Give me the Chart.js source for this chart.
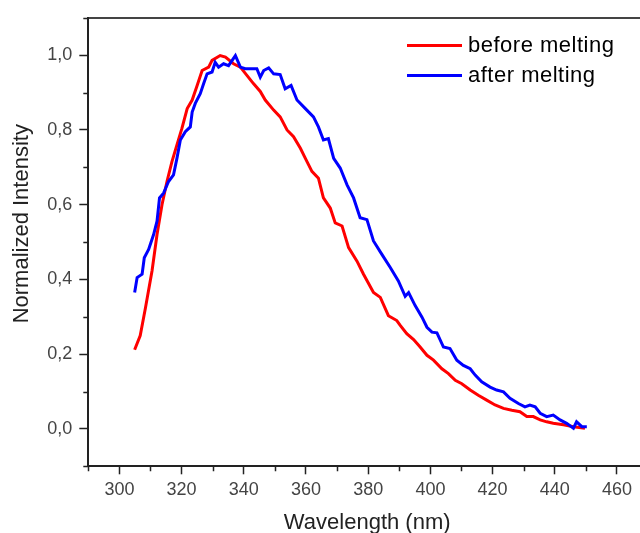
<!DOCTYPE html>
<html>
<head>
<meta charset="utf-8">
<script src="https://cdn.jsdelivr.net/npm/chart.js@4"></script>
<style>
  body { margin: 0; background: #fff; }
  #wrap { position: relative; width: 640px; height: 533px; overflow: hidden; }
  #legend { position: absolute; left: 407px; top: 30px; font-family: "Liberation Sans", Arial, sans-serif; font-size: 22px; letter-spacing: 0.5px; color: #000; }
  .row { display: flex; align-items: center; height: 30px; }
  .swatch { width: 55px; height: 3px; margin-right: 6px; }
</style>
</head>
<body>
<div id="wrap">
  <canvas id="myChart" width="640" height="533"></canvas>
  <div id="legend">
    <div class="row"><span class="swatch" style="background:#ff0000"></span><span>before melting</span></div>
    <div class="row"><span class="swatch" style="background:#0000ff"></span><span>after melting</span></div>
  </div>
</div>
<script>
// before melting (red)
const redWl = [304.9, 306.7, 308.4, 310.5, 312.1, 313.7, 315.3, 316.9, 318.5, 320.1, 321.8, 323.4, 325.0, 326.6, 328.7, 329.8,
  332.4, 334.1, 336.7, 338.9, 341.0, 343.1, 345.3, 346.9, 349.6, 351.7, 353.9, 356.0, 358.2, 359.8, 361.9, 364.0, 365.6,
  367.8, 369.4, 371.6, 373.7, 376.4, 378.5, 381.7, 383.9, 386.5, 389.2, 390.3, 392.4, 394.6, 396.7, 398.9, 401.0, 403.7,
  405.8, 408.0, 410.1, 412.8, 415.4, 418.1, 420.8, 423.5, 426.2, 428.8, 431.0, 433.1, 435.3, 437.4, 439.5, 442.8, 446.0, 449.7];
const redVal = [0.212, 0.25, 0.325, 0.423, 0.52, 0.60, 0.662, 0.715, 0.76, 0.804, 0.857, 0.88, 0.919, 0.959, 0.968, 0.986,
  0.999, 0.995, 0.977, 0.968, 0.946, 0.924, 0.903, 0.88, 0.853, 0.835, 0.80, 0.782, 0.751, 0.724, 0.689, 0.671, 0.618,
  0.591, 0.551, 0.543, 0.485, 0.449, 0.414, 0.365, 0.352, 0.303, 0.29, 0.277, 0.255, 0.239, 0.219, 0.197, 0.184, 0.161,
  0.148, 0.13, 0.121, 0.104, 0.09, 0.077, 0.064, 0.055, 0.05, 0.046, 0.033, 0.033, 0.024, 0.019, 0.015, 0.011, 0.006, 0.002];

// after melting (blue)
const blueWl = [304.9, 305.7, 307.3, 308.0, 309.4, 311.0, 312.1, 312.9, 314.2, 315.8, 317.4, 318.5, 319.6, 321.2, 322.8, 323.4,
  324.4, 326.0, 327.1, 328.2, 329.8, 330.8, 331.9, 333.5, 335.1, 337.3, 338.9, 340.5, 342.6, 344.2, 345.3, 346.4, 348.0,
  349.6, 351.7, 353.3, 355.2, 357.1, 359.8, 362.4, 364.0, 365.6, 367.2, 368.9, 371.0, 373.2, 375.3, 377.4, 379.6, 381.7,
  384.4, 387.1, 389.7, 391.9, 393.0, 395.1, 397.3, 398.9, 400.5, 402.1, 404.2, 406.3, 408.5, 410.6, 412.8, 414.4, 416.5,
  419.2, 421.3, 423.5, 425.6, 428.3, 430.4, 432.0, 433.7, 435.3, 437.4, 439.5, 441.7, 443.8, 446.0, 447.0, 448.7, 450.3];
const blueVal = [0.365, 0.405, 0.414, 0.458, 0.48, 0.52, 0.556, 0.618, 0.631, 0.662, 0.68, 0.724, 0.773, 0.795, 0.808, 0.848,
  0.871, 0.897, 0.924, 0.95, 0.955, 0.981, 0.968, 0.977, 0.972, 0.999, 0.968, 0.964, 0.964, 0.964, 0.941, 0.959, 0.966,
  0.95, 0.948, 0.91, 0.919, 0.88, 0.857, 0.835, 0.808, 0.773, 0.777, 0.724, 0.698, 0.653, 0.618, 0.565, 0.56, 0.503,
  0.467, 0.432, 0.396, 0.355, 0.365, 0.33, 0.299, 0.272, 0.259, 0.257, 0.219, 0.215, 0.184, 0.17, 0.161, 0.144, 0.126,
  0.112, 0.104, 0.099, 0.082, 0.068, 0.059, 0.064, 0.059, 0.042, 0.033, 0.037, 0.024, 0.015, 0.002, 0.019, 0.006, 0.006];

const xMin = 290, xMax = 467.4, xStep = 10;
const yMin = -0.1, yMax = 1.1, yStep = 0.1;

Chart.defaults.font.family = '"Liberation Sans", Arial, sans-serif';

function toPoints(xs, ys) {
    return xs.map((x, i) => ({ x: x, y: ys[i] }));
}

function isMajorX(v) { return Math.round(v) % 20 === 0; }
function isMajorY(v) { return Math.round(v * 10) % 2 === 0; }

// short minor ticks, placed with the scales
const minorTicks = {
    id: 'minorTicks',
    afterDraw(chart) {
        const ctx = chart.ctx;
        const xs = chart.scales.x, ys = chart.scales.y;
        ctx.save();
        ctx.strokeStyle = '#222';
        ctx.lineWidth = 1.5;
        ctx.beginPath();
        xs.ticks.forEach(t => {
            if (isMajorX(t.value)) return;
            const px = Math.round(xs.getPixelForValue(t.value)) + 0.5;
            ctx.moveTo(px, xs.top);
            ctx.lineTo(px, xs.top + 5);
        });
        ys.ticks.forEach(t => {
            if (isMajorY(t.value)) return;
            const py = Math.round(ys.getPixelForValue(t.value)) + 0.5;
            ctx.moveTo(ys.right, py);
            ctx.lineTo(ys.right - 5, py);
        });
        ctx.stroke();
        ctx.restore();
    }
};

new Chart(document.getElementById('myChart').getContext('2d'), {
    type: 'scatter',
    data: {
        datasets: [
            {
                label: 'before melting',
                data: toPoints(redWl, redVal),
                showLine: true,
                borderColor: '#ff0000',
                backgroundColor: '#ff0000',
                borderWidth: 3,
                pointRadius: 0,
                tension: 0,
                order: 2
            },
            {
                label: 'after melting',
                data: toPoints(blueWl, blueVal),
                showLine: true,
                borderColor: '#0000ff',
                backgroundColor: '#0000ff',
                borderWidth: 3,
                pointRadius: 0,
                tension: 0,
                order: 1
            }
        ]
    },
    options: {
        responsive: false,
        animation: false,
        devicePixelRatio: 1,
        layout: { padding: 0 },
        plugins: {
            legend: { display: false },
            tooltip: { enabled: false }
        },
        scales: {
            x: {
                type: 'linear',
                position: 'bottom',
                min: xMin,
                max: xMax,
                afterFit: s => { s.height = 66.7; },
                border: { display: true, color: '#222', width: 2 },
                grid: {
                    drawOnChartArea: false,
                    tickLength: 8,
                    tickWidth: 1.5,
                    tickColor: c => (c.tick && isMajorX(c.tick.value)) ? '#222' : 'rgba(0,0,0,0)'
                },
                ticks: {
                    stepSize: xStep,
                    includeBounds: false,
                    autoSkip: false,
                    maxRotation: 0,
                    padding: 5,
                    color: '#444',
                    font: { size: 18 },
                    callback: v => isMajorX(v) ? String(Math.round(v)) : ''
                },
                title: {
                    display: true,
                    text: ' Wavelength (nm)',
                    color: '#222',
                    font: { size: 22, lineHeight: 1.0 },
                    padding: { top: 0, bottom: -1 }
                }
            },
            xTop: {
                type: 'linear',
                position: 'top',
                min: xMin,
                max: xMax,
                afterFit: s => { s.height = 15.7; },
                border: { display: true, color: '#444', width: 2 },
                grid: { display: false },
                ticks: { display: false }
            },
            y: {
                type: 'linear',
                min: yMin,
                max: yMax,
                afterFit: s => { s.width = 88.3; },
                border: { display: true, color: '#222', width: 2 },
                grid: {
                    drawOnChartArea: false,
                    tickLength: 9,
                    tickWidth: 1.5,
                    tickColor: c => (c.tick && isMajorY(c.tick.value)) ? '#222' : 'rgba(0,0,0,0)'
                },
                ticks: {
                    stepSize: yStep,
                    includeBounds: false,
                    autoSkip: false,
                    padding: 7,
                    color: '#444',
                    font: { size: 18 },
                    callback: v => isMajorY(v) ? v.toFixed(1).replace('.', ',') : ''
                },
                title: {
                    display: true,
                    text: '      Normalized Intensity',
                    color: '#222',
                    font: { size: 22 },
                    padding: { top: 9, bottom: 0 }
                }
            }
        }
    },
    plugins: [minorTicks]
});
</script>
</body>
</html>
